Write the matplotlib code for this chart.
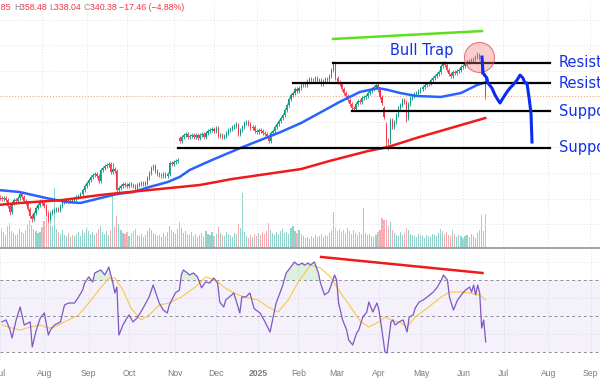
import numpy as np
import pandas as pd
import matplotlib
matplotlib.use("Agg")
import matplotlib.pyplot as plt

# market holidays, so the x axis counts trading days
holidays = ['2024-07-04', '2024-09-02', '2024-11-28', '2024-12-25', '2025-01-01',
            '2025-01-09', '2025-01-20', '2025-02-17', '2025-04-18', '2025-05-26',
            '2025-06-19', '2025-07-04', '2025-09-01']

# daily closes, 2024-07-01 .. 2025-06-17
closes = [
    261.2, 260.4, 259.6, 260.4, 258.8, 254.1, 249.4, 256.5, 258.8, 258.1,
    260.4, 263.5, 261.2, 258.1, 256.5, 251.8, 246.3, 243.9, 248.6, 252.6,
    254.9, 258.1, 256.5, 254.1, 247.9, 243.9, 248.6, 250.2, 251.0, 251.8,
    251.0, 254.1, 257.3, 258.1, 258.8, 258.1, 258.8, 258.1, 259.6, 261.2,
    262.0, 263.5, 266.7, 269.8, 272.2, 274.5, 276.9, 278.4, 279.2, 277.7,
    273.7, 282.4, 283.9, 285.5, 286.3, 287.1, 280.8, 283.1, 281.6, 266.7,
    268.3, 269.8, 271.4, 270.6, 269.8, 271.4, 270.6, 269.8, 267.5, 270.6,
    271.4, 272.2, 271.4, 272.2, 276.1, 280.0, 283.9, 285.5, 281.6, 279.2,
    278.4, 277.7, 279.2, 277.7, 279.2, 287.9, 287.1, 288.6, 289.4, 290.2,
    305.1, 308.2, 309.8, 310.6, 308.2, 309.0, 309.8, 308.2, 309.8, 307.5,
    309.8, 310.6, 308.2, 311.4, 312.9, 313.7, 314.5, 312.9, 315.3, 309.0,
    309.8, 308.2, 309.0, 311.4, 313.7, 314.5, 316.1, 316.9, 318.4, 310.6,
    313.7, 316.1, 319.2, 320.0, 318.4, 315.3, 316.1, 312.9, 312.2, 313.7,
    312.9, 311.4, 310.6, 309.0, 305.1, 311.4, 312.9, 316.1, 318.4, 320.8,
    323.1, 325.5, 329.4, 333.3, 338.0, 341.2, 342.7, 345.9, 344.3, 346.6,
    349.0, 349.8, 349.0, 352.1, 353.7, 352.9, 352.9, 354.5, 352.1, 352.9,
    349.8, 352.1, 353.7, 352.9, 356.1, 360.8, 365.5, 354.5, 351.4, 349.8,
    345.9, 342.7, 340.4, 337.2, 334.1, 331.0, 330.2, 334.1, 336.5, 335.7,
    338.8, 339.6, 340.4, 342.7, 344.3, 345.9, 347.4, 349.0, 345.1, 339.6,
    334.9, 323.9, 305.9, 304.3, 321.6, 316.1, 320.0, 325.5, 331.0, 333.3,
    337.2, 335.7, 323.1, 334.1, 338.8, 340.4, 341.9, 342.7, 344.3, 345.9,
    347.4, 349.0, 349.8, 350.6, 352.9, 354.5, 356.1, 357.6, 359.2, 363.9,
    366.3, 364.7, 360.8, 357.6, 356.1, 359.2, 358.4, 360.0, 360.8, 363.1,
    363.9, 365.5, 367.0, 367.8, 368.6, 369.4, 371.0, 372.5, 370.2, 359.5,
    357.84, 340.38,
]
# opens that gapped away from the prior close
gap_opens = {90: 307.5, 191: 331.0, 192: 318.0, 241: 357.85}
# notable highs / lows (long wicks)
high_marks = {57: 287.5, 119: 319.5, 166: 368.0, 220: 368.0, 237: 375.0, 241: 358.48}
low_marks = {6: 247.0, 17: 241.5, 25: 241.5, 59: 262.5, 90: 303.5, 134: 303.5,
             192: 300.0, 193: 297.8, 202: 320.0, 241: 338.04}

volumes = [
    18, 14, 20, 16, 13, 22, 25, 17, 15, 13,
    14, 19, 16, 15, 18, 24, 28, 23, 19, 17,
    15, 16, 21, 27, 30, 38, 26, 22, 60, 19,
    16, 14, 18, 13, 12, 15, 11, 13, 12, 14,
    16, 12, 18, 15, 20, 17, 14, 16, 13, 15,
    19, 22, 16, 14, 17, 13, 18, 55, 21, 32,
    24, 18, 15, 14, 16, 12, 15, 17, 19, 13,
    12, 14, 11, 13, 17, 20, 18, 15, 14, 12,
    13, 11, 15, 12, 16, 22, 18, 16, 14, 19,
    26, 20, 15, 17, 14, 13, 16, 12, 14, 11,
    13, 15, 12, 17, 14, 13, 16, 12, 14, 21,
    15, 13, 12, 16, 14, 13, 11, 15, 14, 24,
    20, 55, 16, 12, 10, 13, 11, 14, 12, 15,
    13, 16, 14, 17, 25, 18, 15, 13, 16, 14,
    17, 19, 15, 16, 14, 20, 22, 17, 15, 18,
    14, 12, 10, 11, 9, 12, 10, 13, 11, 12,
    14, 11, 13, 12, 15, 18, 36, 20, 17, 19,
    16, 18, 15, 20, 17, 14, 18, 15, 13, 16,
    14, 40, 15, 13, 14, 12, 11, 13, 16, 18,
    30, 28, 28, 22, 26, 18, 15, 13, 12, 16,
    13, 15, 20, 18, 14, 13, 12, 11, 14, 13,
    12, 10, 13, 12, 11, 14, 13, 12, 15, 19,
    17, 14, 16, 13, 12, 18, 14, 11, 13, 12,
    10, 12, 13, 11, 14, 12, 10, 15, 18, 33,
    17, 34,
]

# moving averages (trading-day index, value)
ma50_days = [0, 11, 24, 34, 41, 51, 59, 67, 75, 84, 90, 95, 106, 120, 130, 140,
             150, 159, 169, 179, 188, 193, 199, 207, 219, 229, 237, 241]
ma50_vals = [266.7, 265.1, 260.4, 257.3, 256.5, 260.4, 263.5, 265.1, 269.0, 272.9,
             276.9, 282.4, 290.2, 299.6, 305.9, 312.2, 319.2, 327.0, 335.7, 343.5,
             346.6, 345.1, 342.7, 340.4, 339.6, 342.7, 349.0, 351.0]
ma200_days = [0, 11, 32, 51, 70, 90, 100, 116, 133, 150, 164, 183, 193, 207, 224, 241]
ma200_vals = [254.9, 256.5, 258.8, 262.8, 265.9, 269.0, 270.6, 275.3, 279.2, 283.1,
              289.4, 297.2, 300.4, 307.5, 315.3, 323.1]

# RSI(14) and its moving average
rsi_days = [1, 3, 5, 6, 8, 10, 12, 15, 16, 18, 20, 22, 24, 25, 27, 30, 32, 34, 37, 39,
            41, 42, 44, 46, 47, 50, 52, 54, 56, 57, 58, 59, 61, 63, 64, 66, 68, 69, 71, 74,
            76, 78, 79, 81, 83, 84, 87, 89, 90, 91, 93, 94, 96, 98, 100, 102, 104, 106, 108, 109,
            111, 112, 115, 116, 119, 120, 122, 124, 126, 127, 129, 131, 134, 136, 137, 140, 142, 145, 146, 148,
            150, 151, 153, 154, 156, 158, 159, 161, 163, 164, 166, 167, 168, 170, 172, 173, 175, 177, 178, 180,
            182, 183, 185, 187, 188, 189, 191, 192, 194, 195, 196, 198, 200, 202, 203, 205, 206, 208, 210, 212,
            215, 217, 219, 220, 222, 223, 225, 227, 230, 231, 233, 234, 235, 236, 237, 238, 239, 240, 241]
rsi_vals = [46.7, 47.8, 42.2, 37.8, 47.8, 55.0, 45.0, 46.7, 32.8, 42.2, 48.9, 51.7, 39.4, 42.2, 45.0, 46.7, 56.1, 57.2, 57.2, 60.6,
            64.4, 68.3, 71.7, 68.9, 73.9, 75.6, 72.8, 77.2, 68.3, 62.8, 66.1, 39.4, 45.0, 48.9, 50.6, 46.7, 48.9, 50.6, 54.4, 60.6,
            67.2, 60.6, 57.2, 53.3, 51.7, 56.1, 62.8, 64.4, 73.0, 75.6, 73.9, 72.8, 73.9, 71.7, 65.6, 68.9, 68.3, 71.1, 68.3, 57.8,
            55.0, 58.9, 61.7, 62.8, 51.7, 60.6, 60.6, 62.8, 54.4, 53.3, 51.7, 47.8, 41.1, 51.7, 57.2, 66.1, 73.9, 78.3, 80.0, 78.3,
            79.4, 78.3, 79.4, 78.3, 80.0, 73.9, 68.3, 61.7, 63.3, 66.1, 72.8, 70.0, 57.2, 47.8, 42.2, 36.7, 33.9, 40.6, 42.2, 49.4,
            52.2, 57.8, 52.2, 57.2, 53.3, 46.1, 30.0, 29.4, 46.7, 47.8, 45.0, 46.7, 47.8, 41.1, 49.4, 50.6, 54.4, 57.8, 58.9, 60.6,
            63.3, 66.1, 70.0, 72.8, 70.0, 60.6, 53.3, 58.9, 63.3, 64.4, 66.1, 63.3, 67.2, 61.7, 67.2, 62.8, 43.3, 47.8, 35.6]
rsi_ma_days = [1, 6, 10, 15, 20, 24, 27, 34, 39, 44, 49, 54, 57, 61, 65, 70, 74, 79, 84, 90,
               97, 102, 107, 111, 116, 121, 128, 133, 138, 143, 148, 154, 159, 164, 169, 174, 179, 183, 188, 191,
               194, 199, 202, 206, 212, 219, 223, 229, 233, 238, 241]
rsi_ma_vals = [45.0, 43.3, 42.2, 43.9, 45.0, 43.3, 43.9, 47.8, 50.6, 57.2, 64.4, 71.1, 71.1, 64.4, 54.4, 47.8, 50.6, 56.1, 57.2, 60.6,
               66.1, 71.7, 70.0, 66.1, 62.8, 60.6, 58.9, 55.0, 52.2, 58.9, 68.9, 78.3, 76.7, 71.7, 62.8, 55.0, 46.7, 43.9, 46.7, 49.4,
               47.8, 46.1, 43.9, 49.4, 54.4, 60.6, 63.3, 63.3, 62.8, 61.7, 58.9]

# hand-drawn annotations
proj_days = [239.4, 239.9, 241.8, 242.3, 244.3, 245.8, 247.3, 248.3, 249.8, 251.7,
             253.2, 254.7, 256.7, 258.2, 259.6, 260.6, 261.6, 262.6, 263.6, 264.1]
proj_vals = [370.9, 358.4, 354.5, 350.6, 346.6, 341.2, 337.2, 334.9, 338.8, 343.5,
             346.6, 349.0, 352.9, 356.8, 354.5, 350.6, 350.6, 339.6, 327.0, 304.3]
level_vals = [366.5, 350.3, 328.4, 299.8]
level_from = [165.8, 146.0, 175.2, 89.2]
level_names = ['Resistance', 'Resistance', 'Support', 'Support']
trend_days = [165.8, 239.4]
trend_vals = [385.1, 391.3]
rsi_trend_days = [159.3, 239.4]
rsi_trend_vals = [82.8, 73.9]

# ---- build OHLC
days = pd.bdate_range('2024-07-01', '2025-09-30')
days = days[~days.isin(pd.to_datetime(holidays))]
n = len(closes)
x = np.arange(n)
c = np.array(closes)
o = np.r_[c[0], c[:-1]]
for k, v in gap_opens.items():
    o[k] = v
hi = np.maximum(o, c) + 1.6
lo = np.minimum(o, c) - 1.6
for k, v in high_marks.items():
    hi[k] = v
for k, v in low_marks.items():
    lo[k] = v
up = c >= o

GREEN, RED = '#089981', '#f23645'
GRID = '#dfe2ea'
BLUE_TXT = '#1432e6'
x0, x1 = 1.235, 297.7

fig = plt.figure(figsize=(6, 3.79), dpi=100)
vax = fig.add_axes([0, 131 / 379, 1, 248 / 379])
ax = fig.add_axes([0, 131 / 379, 1, 248 / 379])
rax = fig.add_axes([0, 17 / 379, 1, 112 / 379])
ax.patch.set_visible(False)

# month grid positions
first = pd.Series(np.arange(len(days)), index=days).groupby([days.year, days.month]).first()
mpos = first.values
mlab = ['2025' if m == 1 else pd.Timestamp(year=y, month=m, day=1).strftime('%b') for y, m in first.index]

# ---- volume
vax.bar(x, volumes, width=0.55, color=np.where(up, '#7fcdc2', '#f59ea3'), alpha=0.85)
vax.set_ylim(0, 248)
vax.set_xlim(x0, x1)
vax.axis('off')

# ---- price panel
for p in mpos:
    ax.axvline(p, color=GRID, lw=0.7, ls=(0, (1, 2)), zorder=0)
for g in range(240, 420, 20):
    ax.axhline(g, color=GRID, lw=0.7, ls=(0, (1, 2)), zorder=0)
ax.axhline(closes[-1], color='#f6a37f', lw=0.7, ls=(0, (1, 2)), zorder=1)

ax.vlines(x, lo, hi, colors=np.where(up, GREEN, RED), lw=0.6, zorder=2)
ax.bar(x, np.maximum(np.abs(c - o), 0.4), bottom=np.minimum(o, c), width=0.55,
       color=np.where(up, GREEN, RED), zorder=3)

ax.plot(ma50_days, ma50_vals, color='#2962ff', lw=1.8, zorder=4)
ax.plot(ma200_days, ma200_vals, color='#f01a1a', lw=1.8, zorder=4)

for v, s, name in zip(level_vals, level_from, level_names):
    ax.plot([s, 273], [v, v], color='black', lw=1.6, zorder=5)
    ax.text(277.4, v, name, color=BLUE_TXT, fontsize=10.5, va='center', ha='left')

ax.plot(trend_days, trend_vals, color='#5ee01e', lw=1.8, zorder=5)
ax.text(193.9, 376.4, 'Bull Trap', color=BLUE_TXT, fontsize=10.5, va='center', ha='left')
ax.scatter([237.9], [370.9], s=467, facecolor=(0.95, 0.45, 0.45, 0.35),
           edgecolor=(0.9, 0.35, 0.35, 0.8), lw=0.8, zorder=6)
ax.plot(proj_days, proj_vals, color='#0a2cf5', lw=2.2, zorder=7)

ax.set_xlim(x0, x1)
ax.set_ylim(415.64 - 0.784 * 248, 415.64)
ax.set_xticks([])
ax.set_yticks([])
for side in ['top', 'left', 'right']:
    ax.spines[side].set_visible(False)
ax.spines['bottom'].set_color('#9a9ca3')
ax.spines['bottom'].set_linewidth(1.3)

# ---- header (last bar OHLC)
LABEL = '#8a8d96'
hy = 1 - 7 / 379
fig.text(11 / 600, hy, 'O357.85', color=RED, fontsize=6.3,
         family='Liberation Sans', ha='right', va='center')
parts = [('H', LABEL), ('358.48 ', RED), ('L', LABEL), ('338.04 ', RED),
         ('C', LABEL), ('340.38 ', RED), ('\u221217.46 (\u22124.88%)', RED)]
prev = fig.text(14 / 600, hy, parts[0][0], color=parts[0][1], fontsize=6.3,
                family='Liberation Sans', va='center')
for s, col in parts[1:]:
    prev = ax.annotate(s, xy=(1, 0.5), xycoords=prev, va='center', ha='left',
                       color=col, fontsize=6.3, family='Liberation Sans')

# ---- RSI panel
for p in mpos:
    rax.axvline(p, color=GRID, lw=0.7, ls=(0, (1, 2)), zorder=0)
for g in [40, 60, 80]:
    rax.axhline(g, color=GRID, lw=0.7, ls=(0, (1, 2)), zorder=0)
rax.axhspan(30, 70, color='#7e57c2', alpha=0.08, lw=0)
for g in [70, 50, 30]:
    rax.axhline(g, color='#8b8d97', lw=0.7, ls=(0, (3, 3)))
rv = np.array(rsi_vals)
rax.fill_between(rsi_days, rv, 70, where=rv > 70, interpolate=True, color='#4caf50', alpha=0.18, lw=0)
rax.fill_between(rsi_days, rv, 30, where=rv < 30, interpolate=True, color='#f23645', alpha=0.18, lw=0)
rax.plot(rsi_ma_days, rsi_ma_vals, color='#f9c846', lw=0.8)
rax.plot(rsi_days, rsi_vals, color='#7e57c2', lw=0.9)
rax.plot(rsi_trend_days, rsi_trend_vals, color='#f01a1a', lw=1.8)
rax.set_xlim(x0, x1)
rax.set_ylim(24.44, 86.67)
rax.set_yticks([])
rax.set_xticks(mpos)
rax.set_xticklabels(mlab, fontsize=6.2, color='#787b86', family='Liberation Sans')
for lab in rax.get_xticklabels():
    if lab.get_text() == '2025':
        lab.set_fontweight('bold')
rax.tick_params(axis='x', length=0, pad=5)
for side in rax.spines:
    rax.spines[side].set_visible(False)

fig.savefig('out.png', dpi=100)
